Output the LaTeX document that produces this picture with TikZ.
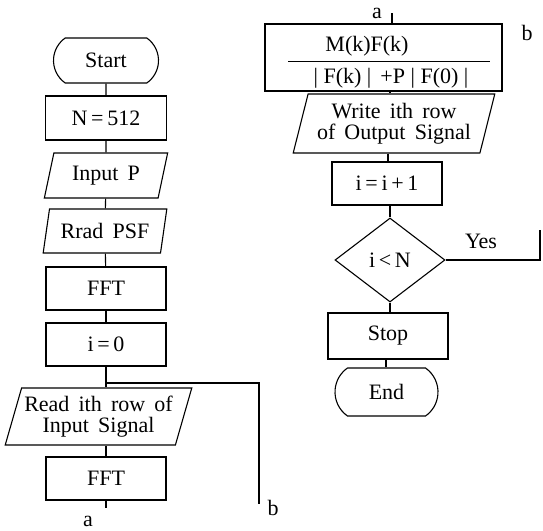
\documentclass[tikz,border=0pt]{standalone}
\usepackage{fontspec}
\setmainfont{Liberation Serif}
\usetikzlibrary{shapes.geometric,shapes.misc}

\tikzset{
  proc/.style={draw, rectangle, inner sep=0pt},
  io/.style={draw, trapezium, trapezium left angle=72, trapezium right angle=108,
    trapezium stretches=true, inner sep=0pt, align=center},
  term/.style={draw, rounded rectangle, rounded rectangle arc length=110, inner sep=0pt},
  decide/.style={draw, diamond, inner sep=0pt}
}

\begin{document}
\begin{tikzpicture}[x=1pt, y=-1pt, line width=1.1pt,
    every node/.style={font=\fontsize{22}{24}\selectfont}]
    \useasboundingbox (0,0) rectangle (543,530);

    % Left column
    \node[term, minimum width=105, minimum height=45] (start) at (106,60.5) {Start};
    \node[proc, minimum width=121, minimum height=44] (nsize) at (106,118) {N\,=\,512};
    \node[io, minimum width=124, minimum height=45] (inp) at (106,175.5) {Input\, P};
    \node[io, minimum width=124, minimum height=44] (psf) at (105,231) {Rrad\, PSF};
    \node[proc, minimum width=120, minimum height=43] (fftpsf) at (106,288.5) {FFT};
    \node[proc, minimum width=120, minimum height=43] (izero) at (106,344.5) {i\,=\,0};
    \node[io, trapezium left angle=69, trapezium right angle=111,
          minimum width=187, minimum height=57] (readrow) at (98.5,416.5)
          {Read\, ith\, row\, of\\[-3pt]Input\, Signal};
    \node[proc, minimum width=120, minimum height=43] (fftrow) at (106,478.5) {FFT};

    % Draw connectors
    \draw (start) -- (nsize);
    \draw (nsize) -- (inp);
    \draw (inp) -- (psf);
    \draw (psf) -- (fftpsf);
    \draw (fftpsf) -- (izero);
    \draw (izero) -- (izero |- readrow.north);
    \draw (izero |- readrow.south) -- (fftrow);
    \coordinate (aout) at (106,508);
    \draw (fftrow) -- (aout);
    \node (alab) at (88,521) {a};

    % Loop back to b
    \coordinate (junc) at (106,383);
    \coordinate (bout) at (259,504);
    \draw (junc) -| (bout);
    \node (blab) at (273,508) {b};

    % Right column
    \coordinate (ain) at (392,13);
    \node (atop) at (377,13) {a};
    \node[proc, minimum width=237, minimum height=67] (filt) at (383.5,57.5) {};
    \node (num) at (367,46) {M(k)F(k)};
    \node (den) at (391,78) {| F(k) |\, +P | F(0) |};
    \draw[line width=0.9pt] (288,61) -- (490,61);
    \draw (ain) -- (ain |- filt.north);
    \node (btop) at (527,33) {b};

    \node[io, minimum width=202, minimum height=59] (writerow) at (394,123.5)
          {Write\, ith\, row\\[-3pt]of\, Output\, Signal};
    \node[proc, minimum width=110, minimum height=43] (incr) at (387,183.5) {i\,=\,i\,+\,1};
    \node[decide, minimum width=110, minimum height=84] (test) at (390,260) {i\,<\,N};
    \node[proc, minimum width=120, minimum height=46] (stop) at (388,336) {Stop};
    \node[term, minimum width=103, minimum height=48] (theend) at (386.5,392) {End};

    \draw (filt.south -| 390,0) -- (390,0 |- writerow.north);
    \draw (writerow.south -| 388,0) -- (388,0 |- incr.north);
    \draw (incr.south -| 390,0) -- (test.north);
    \draw (test.south) -- (test.south |- stop.north);
    \draw (stop.south -| 386,0) -- (386,0 |- theend.north);

    % Yes branch
    \coordinate (yesend) at (540,230);
    \draw (test.east) -| (yesend);
    \node (yes) at (481,241) {Yes};
\end{tikzpicture}
\end{document}
